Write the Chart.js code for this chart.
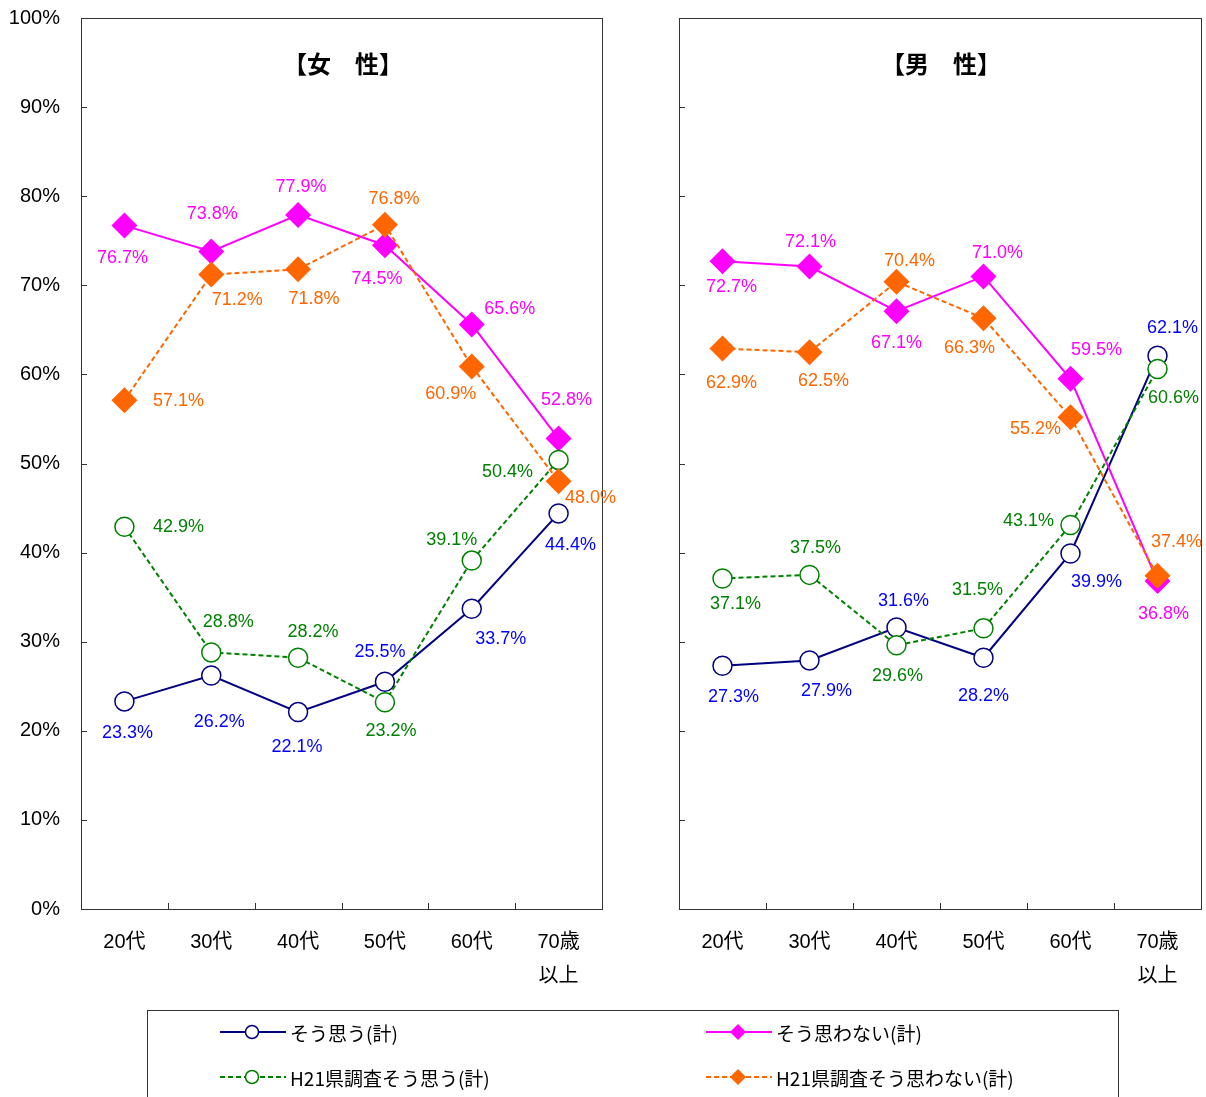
<!DOCTYPE html>
<html>
<head>
<meta charset="utf-8">
<script src="https://cdn.jsdelivr.net/npm/chart.js@4.4.1/dist/chart.umd.min.js"></script>
<style>
  body { margin: 0; background: #fff; overflow: hidden; }
  #wrap { position: relative; width: 1206px; height: 1097px; overflow: hidden; }
  #wrap canvas { position: absolute; left: 0; top: 0; }
  .ttl { position: absolute; top: 48px; width: 200px; text-align: center;
         font: bold 24px "Noto Sans CJK JP", sans-serif; line-height: 30px; color: #000; }
  #legend { position: absolute; left: 147px; top: 1010px; width: 972px; height: 110px;
            border: 1px solid #333; box-sizing: border-box; }
  .item { position: absolute; height: 30px; display: flex; align-items: center;
          font: 19px "Noto Sans CJK JP", sans-serif; color: #000; }
  .item svg { margin-right: 4px; }
</style>
</head>
<body>
<div id="wrap">
  <canvas id="left" width="1206" height="1097"></canvas>
  <canvas id="right" width="1214" height="1097"></canvas>
  <div class="ttl" style="left:243px">【女　性】</div>
  <div class="ttl" style="left:841px">【男　性】</div>
  <div id="legend"></div>
</div>
<script>
// categories
const ages = ["20代", "30代", "40代", "50代", "60代", ["70歳", "以上"]];
const yTicks = [0, 10, 20, 30, 40, 50, 60, 70, 80, 90, 100];

// series names
const seriesNames = ["そう思う(計)", "そう思わない(計)", "H21県調査そう思う(計)", "H21県調査そう思わない(計)"];

// female (%)
const femaleAgree     = [23.3, 26.2, 22.1, 25.5, 33.7, 44.4];
const femaleDisagree  = [76.7, 73.8, 77.9, 74.5, 65.6, 52.8];
const femaleAgreeH21  = [42.9, 28.8, 28.2, 23.2, 39.1, 50.4];
const femaleDisagreeH21 = [57.1, 71.2, 71.8, 76.8, 60.9, 48.0];

// male (%)
const maleAgree     = [27.3, 27.9, 31.6, 28.2, 39.9, 62.1];
const maleDisagree  = [72.7, 72.1, 67.1, 71.0, 59.5, 36.8];
const maleAgreeH21  = [37.1, 37.5, 29.6, 31.5, 43.1, 60.6];
const maleDisagreeH21 = [62.9, 62.5, 70.4, 66.3, 55.2, 37.4];

// data label offsets from the point (px), per panel/series
const femaleLabelPos = [
  [[3, 32], [8, 46], [-1, 35], [-5, -30], [29, 30], [12, 32]],
  [[-2, 32], [1, -37], [3, -28], [-8, 34], [38, -15], [8, -39]],
  [[54, 0], [17, -30], [15, -26], [6, 29], [-20, -21], [-51, 12]],
  [[54, 1], [26, 25], [16, 30], [9, -26], [-21, 28], [32, 17]]
];
const maleLabelPos = [
  [[11, 31], [17, 31], [7, -26], [0, 38], [26, 29], [15, -28]],
  [[9, 26], [1, -25], [0, 32], [14, -23], [26, -29], [6, 33]],
  [[13, 26], [6, -27], [1, 31], [-6, -38], [-42, -4], [16, 29]],
  [[9, 34], [14, 29], [13, -21], [-14, 30], [-35, 12], [19, -34]]
];

const styles = [
  { line: "#000080", label: "#0000ff", dash: [], point: "circle", radius: 9.5, fill: "#ffffff", order: 4 },
  { line: "#ff00ff", label: "#ff00ff", dash: [], point: "rectRot", radius: 13, fill: "#ff00ff", order: 3 },
  { line: "#008000", label: "#008000", dash: [5, 3], point: "circle", radius: 9.5, fill: "#ffffff", order: 2 },
  { line: "#ff6600", label: "#ff6600", dash: [5, 3], point: "rectRot", radius: 13, fill: "#ff6600", order: 1 }
];

const NUM_FONT = '"Liberation Sans", Arial, "Noto Sans CJK JP", sans-serif';

function makeDatasets(series, labelPos) {
  return series.map((vals, i) => ({
    label: seriesNames[i],
    data: vals,
    borderColor: styles[i].line,
    borderWidth: 2,
    borderDash: styles[i].dash,
    pointStyle: styles[i].point,
    pointRadius: styles[i].radius,
    pointHoverRadius: styles[i].radius,
    pointBackgroundColor: styles[i].fill,
    pointBorderColor: styles[i].line,
    pointBorderWidth: styles[i].point === "circle" ? 1.5 : 0,
    order: styles[i].order,
    labelColor: styles[i].label,
    labelPos: labelPos[i],
    tension: 0
  }));
}

// frame, inward ticks and data labels
const panelPlugin = {
  id: "panel",
  afterDraw(chart) {
    const ctx = chart.ctx;
    const a = chart.chartArea;
    const ys = chart.scales.y, xs = chart.scales.x;
    ctx.save();
    ctx.strokeStyle = "#333";
    ctx.lineWidth = 1;
    ctx.strokeRect(Math.round(a.left) + 0.5, Math.round(a.top) + 0.5,
                   Math.round(a.right - a.left), Math.round(a.bottom - a.top));
    ctx.beginPath();
    yTicks.forEach(v => {
      const y = Math.round(ys.getPixelForValue(v)) + 0.5;
      ctx.moveTo(a.left, y); ctx.lineTo(a.left + 6, y);
    });
    for (let i = 0; i < ages.length - 1; i++) {
      const x = Math.round((xs.getPixelForValue(i) + xs.getPixelForValue(i + 1)) / 2) + 0.5;
      ctx.moveTo(x, a.bottom); ctx.lineTo(x, a.bottom - 6);
    }
    ctx.stroke();

    ctx.font = "18px " + NUM_FONT;
    ctx.textAlign = "center";
    ctx.textBaseline = "middle";
    chart.data.datasets.forEach((ds, di) => {
      const meta = chart.getDatasetMeta(di);
      meta.data.forEach((pt, i) => {
        const off = ds.labelPos[i];
        ctx.fillStyle = ds.labelColor;
        ctx.fillText(ds.data[i].toFixed(1) + "%", pt.x + off[0], pt.y + off[1]);
      });
    });
    ctx.restore();
  }
};

function makeChart(id, series, labelPos, opts) {
  return new Chart(document.getElementById(id), {
    type: "line",
    data: { labels: ages, datasets: makeDatasets(series, labelPos) },
    options: {
      responsive: false,
      animation: false,
      devicePixelRatio: 1,
      layout: { padding: { left: opts.padLeft, right: opts.padRight, top: 18, bottom: 0 } },
      plugins: { legend: { display: false }, tooltip: { enabled: false } },
      scales: {
        x: {
          offset: true,
          grid: { display: false, drawTicks: false },
          border: { display: false },
          ticks: {
            color: "#000",
            padding: 16,
            maxRotation: 0,
            autoSkip: false,
            font: { family: NUM_FONT, size: 20, lineHeight: 1.7 }
          },
          afterFit(scale) {
            scale.height = 188;
            scale.paddingLeft = 0; scale.paddingRight = 0;
          }
        },
        y: {
          min: 0, max: 100,
          grid: { display: false, drawTicks: false },
          border: { display: false },
          ticks: {
            display: opts.showY,
            stepSize: 10,
            color: "#000",
            padding: 21,
            font: { family: NUM_FONT, size: 20 },
            callback: v => v + "%"
          },
          afterFit(scale) {
            scale.width = opts.yWidth;
            scale.paddingTop = 0; scale.paddingBottom = 0;
          }
        }
      }
    },
    plugins: [panelPlugin]
  });
}

makeChart("left", [femaleAgree, femaleDisagree, femaleAgreeH21, femaleDisagreeH21], femaleLabelPos,
  { padLeft: 0, padRight: 604, yWidth: 81, showY: true });
makeChart("right", [maleAgree, maleDisagree, maleAgreeH21, maleDisagreeH21], maleLabelPos,
  { padLeft: 610, padRight: 0, yWidth: 69, showY: false });

// legend
const legendSpots = [[72, 6], [558, 6], [72, 51], [558, 51]];
const legend = document.getElementById("legend");
seriesNames.forEach((name, i) => {
  const s = styles[i];
  const dash = s.dash.length ? ` stroke-dasharray="${s.dash.join(",")}"` : "";
  const marker = s.point === "circle"
    ? `<circle cx="32" cy="11" r="6.5" fill="#fff" stroke="${s.line}" stroke-width="1.5"/>`
    : `<polygon points="32,3 40,11 32,19 24,11" fill="${s.fill}"/>`;
  const div = document.createElement("div");
  div.className = "item";
  div.style.left = legendSpots[i][0] + "px";
  div.style.top = legendSpots[i][1] + "px";
  div.innerHTML = `<svg width="66" height="22"><line x1="0" y1="11" x2="66" y2="11" stroke="${s.line}" stroke-width="2"${dash}/>${marker}</svg><span>${name}</span>`;
  legend.appendChild(div);
});
</script>
</body>
</html>
